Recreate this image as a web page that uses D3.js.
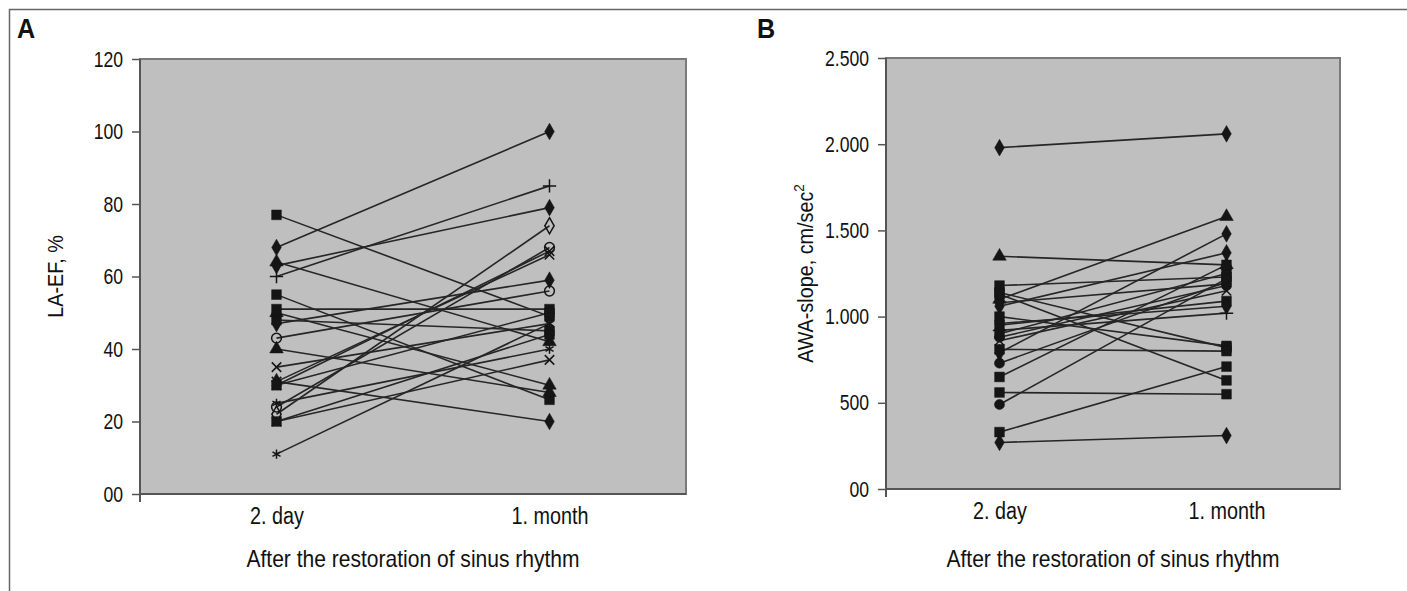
<!DOCTYPE html>
<html>
<head>
<meta charset="utf-8">
<script src="https://cdn.jsdelivr.net/npm/d3@7"></script>
<style>
  body { margin: 0; background: #fff; }
  svg { display: block; }
</style>
</head>
<body>
<div id="chart"></div>
<script>
const W = 1407, H = 591;
const FONT = "'Liberation Sans', Arial, sans-serif";

// categories on the x axis
const categories = ["2. day", "1. month"];

// panel A: LA-EF, % (one pair per patient)
const efDay2   = [77, 68, 64, 63, 60, 55, 51, 50, 48, 47, 43, 40, 35, 31, 30, 30, 25, 24, 22, 20, 20, 11, 31];
const efMonth1 = [49, 100, 42, 79, 85, 26, 51, 30, 45, 59, 56, 28, 47, 20, 50, 67, 40, 68, 74, 44, 37, 47, 66];
const efMarkers = ["square", "diamond", "triangle", "diamond", "plus", "square", "square", "triangle", "square", "diamond",
                   "ocircle", "triangle", "x", "diamond", "square", "x", "star", "ocircle", "odiamond", "square", "x", "star", "x"];
const efTicks = [0, 20, 40, 60, 80, 100, 120];
const efTickLabels = ["00", "20", "40", "60", "80", "100", "120"];

// panel B: AWA-slope, cm/sec2
const awaDay2   = [1980, 1350, 1180, 1140, 1100, 1080, 1060, 1000, 950, 920, 900, 880, 860, 810, 790, 730, 650, 560, 490, 330, 270, 1130, 960];
const awaMonth1 = [2060, 1300, 1230, 820, 1580, 1190, 1370, 830, 1090, 1020, 1250, 1180, 1150, 800, 1480, 1200, 1300, 550, 1220, 710, 310, 630, 1060];
const awaMarkers = ["diamond", "triangle", "square", "square", "triangle", "diamond", "diamond", "square", "square", "plus",
                    "square", "circle", "x", "square", "diamond", "circle", "square", "square", "circle", "square", "diamond", "square", "diamond"];
const awaTicks = [0, 500, 1000, 1500, 2000, 2500];
const awaTickLabels = ["00", "500", "1.000", "1.500", "2.000", "2.500"];

const svg = d3.select("#chart").append("svg")
  .attr("width", W)
  .attr("height", H);

// figure frame
svg.append("path")
  .attr("d", `M9.5,${H} V9.5 H${W}`)
  .attr("fill", "none")
  .attr("stroke", "#666")
  .attr("stroke-width", 1.5);

// squeeze text horizontally, the original uses a condensed face
function condense(sel, sx) {
  sel.each(function () {
    const t = d3.select(this);
    const x0 = +t.attr("x") || 0;
    const y0 = +t.attr("y") || 0;
    const tr = t.attr("transform") || "";
    t.attr("x", 0).attr("y", 0)
      .attr("transform", `${tr} translate(${x0},${y0}) scale(${sx},1)`);
  });
}

function symbolFor(name) {
  const sx = d3.symbolX || d3.symbolTimes || d3.symbolCross;
  switch (name) {
    case "square": return { type: d3.symbolSquare, size: 95, fill: true };
    case "diamond": return { type: d3.symbolDiamond, size: 80, fill: true };
    case "odiamond": return { type: d3.symbolDiamond, size: 75, fill: false };
    case "triangle": return { type: d3.symbolTriangle, size: 80, fill: true };
    case "circle": return { type: d3.symbolCircle, size: 80, fill: true };
    case "ocircle": return { type: d3.symbolCircle, size: 75, fill: false };
    case "x": return { type: sx, size: 60, fill: false };
    case "star": return { type: d3.symbolAsterisk || sx, size: 60, fill: false };
    case "plus": return { type: d3.symbolPlus || d3.symbolCross, size: 60, fill: false };
  }
}

function drawPanel(cfg) {
  const g = svg.append("g");

  const x = d3.scalePoint()
    .domain(categories)
    .range([cfg.left, cfg.right])
    .padding(0.5);

  const y = d3.scaleLinear()
    .domain([cfg.ticks[0], cfg.ticks[cfg.ticks.length - 1]])
    .range([cfg.bottom, cfg.top]);

  // plot area
  g.append("rect")
    .attr("x", cfg.left)
    .attr("y", cfg.top)
    .attr("width", cfg.right - cfg.left)
    .attr("height", cfg.bottom - cfg.top)
    .attr("fill", "#bfbfbf")
    .attr("stroke", "#7a7a7a")
    .attr("stroke-width", 2);

  // panel letter
  const letter = g.append("text")
    .attr("x", cfg.letterX)
    .attr("y", 38)
    .attr("font-family", FONT)
    .attr("font-weight", "bold")
    .attr("font-size", 28)
    .attr("fill", "#111")
    .text(cfg.letter);
  condense(letter, 0.9);

  // y axis
  const yAxis = g.append("g")
    .attr("transform", `translate(${cfg.left},0)`)
    .call(d3.axisLeft(y)
      .tickValues(cfg.ticks)
      .tickFormat((d, i) => cfg.tickLabels[i])
      .tickSize(8)
      .tickPadding(9));
  yAxis.select(".domain").attr("stroke", "#555").attr("stroke-width", 2)
    .attr("d", `M0,${cfg.top}V${cfg.bottom + 8}`);
  yAxis.selectAll(".tick line").attr("stroke", "#555").attr("stroke-width", 1.5);
  yAxis.selectAll("text")
    .attr("font-family", FONT)
    .attr("font-size", 22)
    .attr("fill", "#111")
    .call(condense, 0.8);

  // x axis
  const xAxis = g.append("g")
    .attr("transform", `translate(0,${cfg.bottom})`)
    .call(d3.axisBottom(x).tickSize(0).tickPadding(14));
  xAxis.select(".domain").attr("stroke", "#555").attr("stroke-width", 2)
    .attr("d", `M${cfg.left},0H${cfg.right}`);
  xAxis.selectAll("text")
    .attr("font-family", FONT)
    .attr("font-size", 23)
    .attr("fill", "#111")
    .call(condense, 0.86);

  // axis titles
  g.append("text")
    .attr("x", (cfg.left + cfg.right) / 2)
    .attr("y", 567)
    .attr("text-anchor", "middle")
    .attr("font-family", FONT)
    .attr("font-size", 23)
    .attr("fill", "#111")
    .text("After the restoration of sinus rhythm")
    .call(condense, 0.915);

  const yt = g.append("text")
    .attr("transform", `translate(${cfg.yTitleX},${(cfg.top + cfg.bottom) / 2}) rotate(-90) scale(0.9,1)`)
    .attr("text-anchor", "middle")
    .attr("font-family", FONT)
    .attr("font-size", 22)
    .attr("fill", "#111");
  yt.append("tspan").text(cfg.yTitle);
  if (cfg.yTitleSup) {
    yt.append("tspan").attr("font-size", 15).attr("dy", -9).text(cfg.yTitleSup);
  }

  const rows = cfg.day2.map((v, i) => ({ a: v, b: cfg.month1[i], m: cfg.markers[i] }));

  // connecting lines
  g.append("g").selectAll("line")
    .data(rows)
    .join("line")
      .attr("x1", x(categories[0]))
      .attr("y1", d => y(d.a))
      .attr("x2", x(categories[1]))
      .attr("y2", d => y(d.b))
      .attr("stroke", "#262626")
      .attr("stroke-width", 1.6);

  // markers
  const pts = [];
  rows.forEach(d => {
    pts.push({ cx: x(categories[0]), v: d.a, m: d.m });
    pts.push({ cx: x(categories[1]), v: d.b, m: d.m });
  });
  g.append("g").selectAll("path")
    .data(pts)
    .join("path")
      .attr("transform", d => `translate(${d.cx},${y(d.v)})`)
      .attr("d", d => d3.symbol().type(symbolFor(d.m).type).size(symbolFor(d.m).size)())
      .attr("fill", d => symbolFor(d.m).fill ? "#151515" : "none")
      .attr("stroke", "#151515")
      .attr("stroke-width", d => symbolFor(d.m).fill ? 0.5 : 1.5);
}

drawPanel({
  letter: "A", letterX: 17,
  left: 140, right: 686, top: 59, bottom: 494,
  ticks: efTicks, tickLabels: efTickLabels,
  day2: efDay2, month1: efMonth1, markers: efMarkers,
  yTitle: "LA-EF, %", yTitleX: 63
});

drawPanel({
  letter: "B", letterX: 757,
  left: 886, right: 1340, top: 58, bottom: 489,
  ticks: awaTicks, tickLabels: awaTickLabels,
  day2: awaDay2, month1: awaMonth1, markers: awaMarkers,
  yTitle: "AWA-slope, cm/sec", yTitleSup: "2", yTitleX: 813
});
</script>
</body>
</html>
